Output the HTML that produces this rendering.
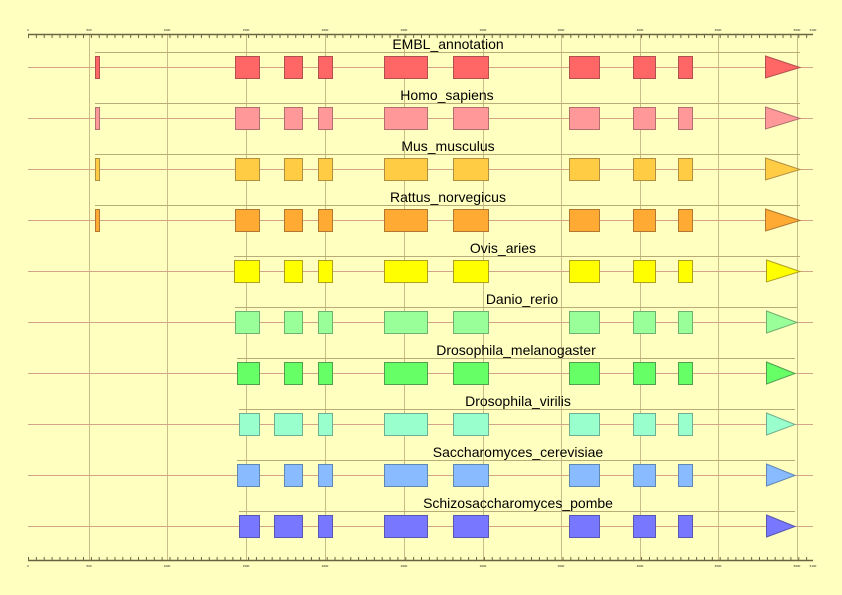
<!DOCTYPE html>
<html><head><meta charset="utf-8"><style>
html,body{margin:0;padding:0;background:#ffffc0;}
svg{display:block;font-family:"Liberation Sans",sans-serif;}
</style></head><body>
<svg width="842" height="595" viewBox="0 0 842 595" xmlns="http://www.w3.org/2000/svg">
<rect width="842" height="595" fill="#ffffc0"/>
<g stroke="#c8bc88" stroke-width="1">
<line x1="89.5" y1="34" x2="89.5" y2="560"/><line x1="167.5" y1="34" x2="167.5" y2="560"/>
<line x1="246.5" y1="34" x2="246.5" y2="560"/><line x1="325.5" y1="34" x2="325.5" y2="560"/>
<line x1="404.5" y1="34" x2="404.5" y2="560"/><line x1="483.5" y1="34" x2="483.5" y2="560"/>
<line x1="561.5" y1="34" x2="561.5" y2="560"/><line x1="640.5" y1="34" x2="640.5" y2="560"/>
<line x1="718.5" y1="34" x2="718.5" y2="560"/><line x1="797.5" y1="34" x2="797.5" y2="560"/>
</g>
<g stroke="#6a6440">
<line x1="28" y1="34.5" x2="813" y2="34.5" stroke-width="1.5"/>
<line x1="28" y1="36.5" x2="813" y2="36.5" stroke-width="3" stroke-dasharray="1 6.86"/>
<line x1="28" y1="560.5" x2="813" y2="560.5" stroke-width="1.5"/>
<line x1="28" y1="558.5" x2="813" y2="558.5" stroke-width="3" stroke-dasharray="1 6.86"/>
</g>
<g fill="#222" font-size="3">
<text x="28" y="31" text-anchor="middle">0</text><text x="89" y="31" text-anchor="middle">500</text><text x="167" y="31" text-anchor="middle">1000</text><text x="246" y="31" text-anchor="middle">1500</text><text x="325" y="31" text-anchor="middle">2000</text><text x="404" y="31" text-anchor="middle">2500</text><text x="483" y="31" text-anchor="middle">3000</text><text x="561" y="31" text-anchor="middle">3500</text><text x="640" y="31" text-anchor="middle">4000</text><text x="718" y="31" text-anchor="middle">4500</text><text x="797" y="31" text-anchor="middle">5000</text><text x="813" y="31" text-anchor="middle">5100</text>
<text x="28" y="567" text-anchor="middle">0</text><text x="89" y="567" text-anchor="middle">500</text><text x="167" y="567" text-anchor="middle">1000</text><text x="246" y="567" text-anchor="middle">1500</text><text x="325" y="567" text-anchor="middle">2000</text><text x="404" y="567" text-anchor="middle">2500</text><text x="483" y="567" text-anchor="middle">3000</text><text x="561" y="567" text-anchor="middle">3500</text><text x="640" y="567" text-anchor="middle">4000</text><text x="718" y="567" text-anchor="middle">4500</text><text x="797" y="567" text-anchor="middle">5000</text><text x="813" y="567" text-anchor="middle">5100</text>
</g>
<g font-size="14" fill="#000" text-anchor="middle">
<g>
<line x1="28" y1="67.5" x2="813" y2="67.5" stroke="#d4a488"/><line x1="95" y1="52.5" x2="800" y2="52.5" stroke="#b8ac78"/>
<text x="448" y="49">EMBL_annotation</text>
<g fill="#ff6666" stroke="#b05050"><rect x="95.5" y="56.5" width="4" height="22"/><rect x="235.5" y="56.5" width="24" height="22"/><rect x="284.5" y="56.5" width="18" height="22"/><rect x="318.5" y="56.5" width="14" height="22"/><rect x="384.5" y="56.5" width="43" height="22"/><rect x="453.5" y="56.5" width="35" height="22"/><rect x="569.5" y="56.5" width="30" height="22"/><rect x="633.5" y="56.5" width="22" height="22"/><rect x="678.5" y="56.5" width="14" height="22"/><polygon points="765.5,56 800,67.5 765.5,78"/></g>
</g>
<g transform="translate(0,51)">
<line x1="28" y1="67.5" x2="813" y2="67.5" stroke="#d4a488"/><line x1="95" y1="52.5" x2="800" y2="52.5" stroke="#b8ac78"/>
<text x="447" y="49">Homo_sapiens</text>
<g fill="#ff9999" stroke="#b07070"><rect x="95.5" y="56.5" width="4" height="22"/><rect x="235.5" y="56.5" width="24" height="22"/><rect x="284.5" y="56.5" width="18" height="22"/><rect x="318.5" y="56.5" width="14" height="22"/><rect x="384.5" y="56.5" width="43" height="22"/><rect x="453.5" y="56.5" width="35" height="22"/><rect x="569.5" y="56.5" width="30" height="22"/><rect x="633.5" y="56.5" width="22" height="22"/><rect x="678.5" y="56.5" width="14" height="22"/><polygon points="765.5,56 800,67.5 765.5,78"/></g>
</g>
<g transform="translate(0,102)">
<line x1="28" y1="67.5" x2="813" y2="67.5" stroke="#d4a488"/><line x1="95" y1="52.5" x2="800" y2="52.5" stroke="#b8ac78"/>
<text x="448" y="49">Mus_musculus</text>
<g fill="#ffcc44" stroke="#b09040"><rect x="95.5" y="56.5" width="4" height="22"/><rect x="235.5" y="56.5" width="24" height="22"/><rect x="284.5" y="56.5" width="18" height="22"/><rect x="318.5" y="56.5" width="14" height="22"/><rect x="384.5" y="56.5" width="43" height="22"/><rect x="453.5" y="56.5" width="35" height="22"/><rect x="569.5" y="56.5" width="30" height="22"/><rect x="633.5" y="56.5" width="22" height="22"/><rect x="678.5" y="56.5" width="14" height="22"/><polygon points="765.5,56 800,67.5 765.5,78"/></g>
</g>
<g transform="translate(0,153)">
<line x1="28" y1="67.5" x2="813" y2="67.5" stroke="#d4a488"/><line x1="95" y1="52.5" x2="800" y2="52.5" stroke="#b8ac78"/>
<text x="448" y="49">Rattus_norvegicus</text>
<g fill="#ffaa33" stroke="#b07830"><rect x="95.5" y="56.5" width="4" height="22"/><rect x="235.5" y="56.5" width="24" height="22"/><rect x="284.5" y="56.5" width="18" height="22"/><rect x="318.5" y="56.5" width="14" height="22"/><rect x="384.5" y="56.5" width="43" height="22"/><rect x="453.5" y="56.5" width="35" height="22"/><rect x="569.5" y="56.5" width="30" height="22"/><rect x="633.5" y="56.5" width="22" height="22"/><rect x="678.5" y="56.5" width="14" height="22"/><polygon points="765.5,56 800,67.5 765.5,78"/></g>
</g>
<g transform="translate(0,204)">
<line x1="28" y1="67.5" x2="813" y2="67.5" stroke="#d4a488"/><line x1="234" y1="52.5" x2="800" y2="52.5" stroke="#b8ac78"/>
<text x="503" y="49">Ovis_aries</text>
<g fill="#ffff00" stroke="#b0a020"><rect x="234.5" y="56.5" width="25" height="22"/><rect x="284.5" y="56.5" width="18" height="22"/><rect x="318.5" y="56.5" width="14" height="22"/><rect x="384.5" y="56.5" width="43" height="22"/><rect x="453.5" y="56.5" width="35" height="22"/><rect x="569.5" y="56.5" width="30" height="22"/><rect x="633.5" y="56.5" width="22" height="22"/><rect x="678.5" y="56.5" width="14" height="22"/><polygon points="766.5,56 800,67.5 766.5,78"/></g>
</g>
<g transform="translate(0,255)">
<line x1="28" y1="67.5" x2="813" y2="67.5" stroke="#d4a488"/><line x1="235" y1="52.5" x2="797" y2="52.5" stroke="#b8ac78"/>
<text x="522" y="49">Danio_rerio</text>
<g fill="#99ff99" stroke="#70b070"><rect x="235.5" y="56.5" width="24" height="22"/><rect x="284.5" y="56.5" width="18" height="22"/><rect x="318.5" y="56.5" width="14" height="22"/><rect x="384.5" y="56.5" width="43" height="22"/><rect x="453.5" y="56.5" width="35" height="22"/><rect x="569.5" y="56.5" width="30" height="22"/><rect x="633.5" y="56.5" width="22" height="22"/><rect x="678.5" y="56.5" width="14" height="22"/><polygon points="766.5,56 797,67.5 766.5,78"/></g>
</g>
<g transform="translate(0,306)">
<line x1="28" y1="67.5" x2="813" y2="67.5" stroke="#d4a488"/><line x1="237" y1="52.5" x2="795" y2="52.5" stroke="#b8ac78"/>
<text x="516" y="49">Drosophila_melanogaster</text>
<g fill="#66ff66" stroke="#50a050"><rect x="237.5" y="56.5" width="22" height="22"/><rect x="284.5" y="56.5" width="18" height="22"/><rect x="318.5" y="56.5" width="14" height="22"/><rect x="384.5" y="56.5" width="43" height="22"/><rect x="453.5" y="56.5" width="35" height="22"/><rect x="569.5" y="56.5" width="30" height="22"/><rect x="633.5" y="56.5" width="22" height="22"/><rect x="678.5" y="56.5" width="14" height="22"/><polygon points="766.5,56 795,67.5 766.5,78"/></g>
</g>
<g transform="translate(0,357)">
<line x1="28" y1="67.5" x2="813" y2="67.5" stroke="#d4a488"/><line x1="239" y1="52.5" x2="795" y2="52.5" stroke="#b8ac78"/>
<text x="518" y="49">Drosophila_virilis</text>
<g fill="#99ffcc" stroke="#70b090"><rect x="239.5" y="56.5" width="20" height="22"/><rect x="274.5" y="56.5" width="28" height="22"/><rect x="318.5" y="56.5" width="14" height="22"/><rect x="384.5" y="56.5" width="43" height="22"/><rect x="453.5" y="56.5" width="35" height="22"/><rect x="569.5" y="56.5" width="30" height="22"/><rect x="633.5" y="56.5" width="22" height="22"/><rect x="678.5" y="56.5" width="14" height="22"/><polygon points="766.5,56 795,67.5 766.5,78"/></g>
</g>
<g transform="translate(0,408)">
<line x1="28" y1="67.5" x2="813" y2="67.5" stroke="#d4a488"/><line x1="237" y1="52.5" x2="795" y2="52.5" stroke="#b8ac78"/>
<text x="518" y="49">Saccharomyces_cerevisiae</text>
<g fill="#88bbff" stroke="#6088b0"><rect x="237.5" y="56.5" width="22" height="22"/><rect x="284.5" y="56.5" width="18" height="22"/><rect x="318.5" y="56.5" width="14" height="22"/><rect x="384.5" y="56.5" width="43" height="22"/><rect x="453.5" y="56.5" width="35" height="22"/><rect x="569.5" y="56.5" width="30" height="22"/><rect x="633.5" y="56.5" width="22" height="22"/><rect x="678.5" y="56.5" width="14" height="22"/><polygon points="766.5,56 795,67.5 766.5,78"/></g>
</g>
<g transform="translate(0,459)">
<line x1="28" y1="67.5" x2="813" y2="67.5" stroke="#d4a488"/><line x1="239" y1="52.5" x2="795" y2="52.5" stroke="#b8ac78"/>
<text x="518" y="49">Schizosaccharomyces_pombe</text>
<g fill="#7777ff" stroke="#5858b0"><rect x="239.5" y="56.5" width="20" height="22"/><rect x="274.5" y="56.5" width="28" height="22"/><rect x="318.5" y="56.5" width="14" height="22"/><rect x="384.5" y="56.5" width="43" height="22"/><rect x="453.5" y="56.5" width="35" height="22"/><rect x="569.5" y="56.5" width="30" height="22"/><rect x="633.5" y="56.5" width="22" height="22"/><rect x="678.5" y="56.5" width="14" height="22"/><polygon points="766.5,56 795,67.5 766.5,78"/></g>
</g>
</g>
</svg>
</body></html>
